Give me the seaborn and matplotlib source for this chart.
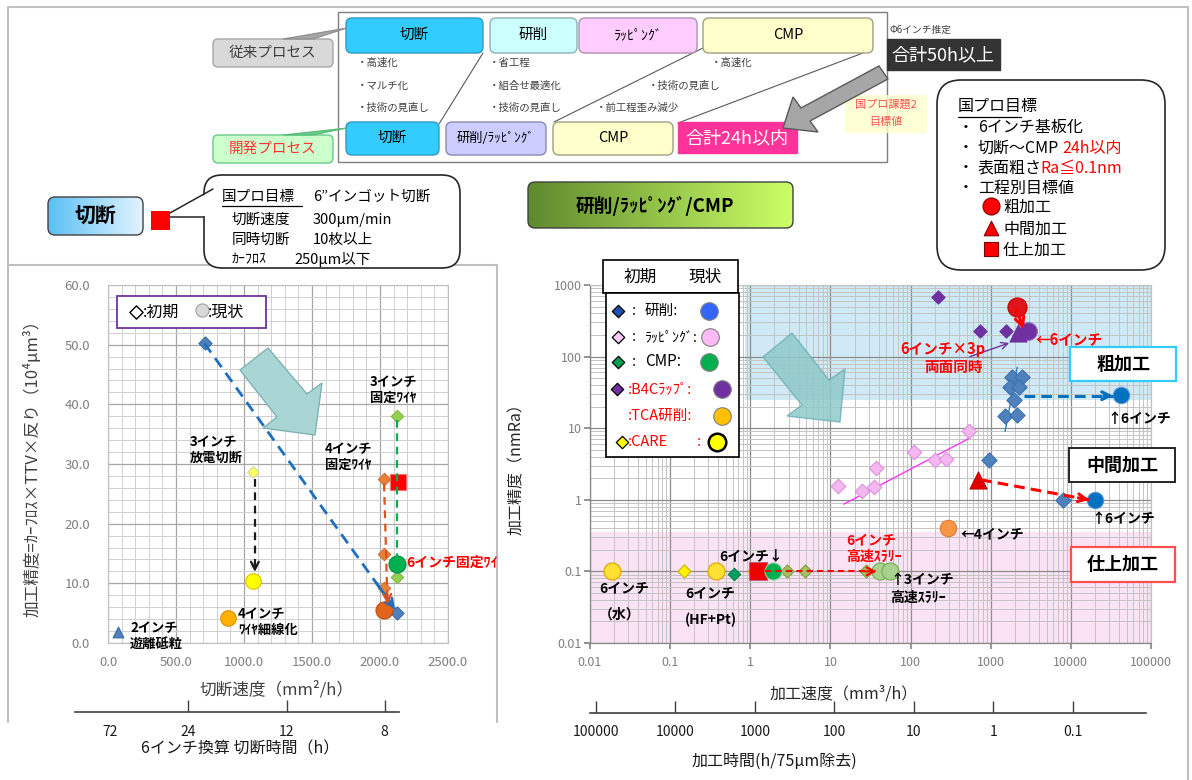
import numpy as np
import pandas as pd
import matplotlib
matplotlib.use("Agg")
import matplotlib.pyplot as plt
import seaborn as sns
from matplotlib.patches import FancyBboxPatch, Rectangle, Polygon
from matplotlib.colors import LinearSegmentedColormap
from matplotlib.transforms import Bbox, TransformedBbox
from matplotlib.ticker import FixedLocator, MultipleLocator, LogLocator, NullFormatter

# ---------------- data: left chart (切断) ----------------
cut_x_ticks = [0, 500, 1000, 1500, 2000, 2500]
cut_x_labels = ["0.0", "500.0", "1000.0", "1500.0", "2000.0", "2500.0"]
cut_y_ticks = [0, 10, 20, 30, 40, 50, 60]
cut_y_labels = ["0.0", "10.0", "20.0", "30.0", "40.0", "50.0", "60.0"]

trend_init_x = [710, 2125]
trend_init_y = [50.2, 5.0]
free2_x = [75]
free2_y = [1.8]
edm3_init_x = [1068]
edm3_init_y = [28.7]
edm3_now_x = [1068]
edm3_now_y = [10.4]
thin4_now_x = [880]
thin4_now_y = [4.2]
fix4_init_x = [2030, 2030, 2030]
fix4_init_y = [27.5, 14.9, 9.2]
fix4_now_x = [2030]
fix4_now_y = [5.5]
fix3_init_x = [2125, 2125]
fix3_init_y = [38.1, 11.1]
fix3_now_x = [2125]
fix3_now_y = [13.2]
fix6_x = [2130]
fix6_y = [26.9]

cut_time_pos = [15, 590, 1315, 2035]
cut_time_labels = ["72", "24", "12", "8"]

# ---------------- data: right chart (研削/ラッピング/CMP) ----------------
rate_ticks = [0.01, 0.1, 1, 10, 100, 1000, 10000, 100000]
rate_labels = ["0.01", "0.1", "1", "10", "100", "1000", "10000", "100000"]
ra_ticks = [0.01, 0.1, 1, 10, 100, 1000]
ra_labels = ["0.01", "0.1", "1", "10", "100", "1000"]

grind_init_x = [1830, 2440, 1740, 2250, 1950, 1490, 2140, 960, 7960]
grind_init_y = [52.6, 52.6, 38, 38, 25, 14.6, 15.4, 3.54, 1.0]
grind_now_x = [41900, 19900]
grind_now_y = [29.3, 1.0]
lap_init_x = [12.6, 24.6, 34.5, 37, 110, 200, 278, 535]
lap_init_y = [1.58, 1.34, 1.5, 2.77, 4.58, 3.54, 3.7, 9.0]
cmp_init_x = [0.63]
cmp_init_y = [0.093]
cmp_now_x = [1.9]
cmp_now_y = [0.1]
b4c_init_x = [223, 725, 1550]
b4c_init_y = [690, 230, 230]
b4c_now_x = [2940]
b4c_now_y = [230]
b4c_tri_x = [2200]
b4c_tri_y = [217]
tca_now_x = [295]
tca_now_y = [0.40]
care_init_x = [0.15, 1.1]
care_init_y = [0.1, 0.1]
care_now_x = [0.019, 0.37]
care_now_y = [0.1, 0.1]
slurry_init_x = [2.87, 4.8, 27.5]
slurry_init_y = [0.1, 0.1, 0.1]
slurry_now_x = [42, 56]
slurry_now_y = [0.1, 0.1]
goal_rough_x = [2100]
goal_rough_y = [500]
goal_mid_x = [690]
goal_mid_y = [1.9]
goal_fin_x = [1.26]
goal_fin_y = [0.1]
lap_fit_x = [14.7, 550]
lap_fit_y = [0.87, 7.3]
grind_fit_x = [1510, 2140]
grind_fit_y = [9.0, 71]
rough_zone = [0.87, 25]      # from speed, from Ra
finish_zone_top = 0.36        # Ra upper bound of finishing zone
time_ticks = [100000, 10000, 1000, 100, 10, 1, 0.1]
time_labels = ["100000", "10000", "1000", "100", "10", "1", "0.1"]

# ---------------- figure ----------------
sns.set_theme(style="white")
plt.rcParams["font.family"] = ["Noto Sans CJK JP", "DejaVu Sans"]
plt.rcParams["axes.unicode_minus"] = False

W, H = 1192, 780
fig = plt.figure(figsize=(W / 100, H / 100), dpi=100)
fig.patch.set_facecolor("white")


def rect(x0, y0, x1, y1):
    return [x0 / W, 1 - y1 / H, (x1 - x0) / W, (y1 - y0) / H]


ax1 = fig.add_axes(rect(108, 285, 448, 643))
ax2 = fig.add_axes(rect(590, 285, 1151, 643))
ov = fig.add_axes([0, 0, 1, 1], zorder=20)
ov.set_xlim(0, W)
ov.set_ylim(H, 0)
ov.axis("off")
ov.patch.set_alpha(0)


def sc(ax, x, y, marker, s, fc, ec, lw=0.8, z=4):
    sns.scatterplot(x=x, y=y, ax=ax, marker=marker, s=s, color=fc,
                    edgecolor=ec, linewidth=lw, zorder=z, legend=False)


def dash_arrow(ax, x0, y0, x1, y1, color, lw=1.8, log=False, dash=(4, 2.5), head=True):
    ax.plot([x0, x1], [y0, y1], ls=(0, dash), color=color, lw=lw, zorder=6,
            solid_capstyle="butt")
    if head:
        if log:
            xm = 10 ** (np.log10(x0) + 0.9 * (np.log10(x1) - np.log10(x0)))
            ym = 10 ** (np.log10(y0) + 0.9 * (np.log10(y1) - np.log10(y0)))
        else:
            xm = x0 + 0.9 * (x1 - x0)
            ym = y0 + 0.9 * (y1 - y0)
        ax.annotate("", xy=(x1, y1), xytext=(xm, ym),
                    arrowprops=dict(arrowstyle="->", color=color, lw=lw,
                                    mutation_scale=14, shrinkA=0, shrinkB=0),
                    zorder=7)


# ---------------- left chart ----------------
ax1.set_xlim(0, 2500)
ax1.set_ylim(0, 60)
ax1.xaxis.set_major_locator(FixedLocator(cut_x_ticks))
ax1.set_xticklabels(cut_x_labels)
ax1.yaxis.set_major_locator(FixedLocator(cut_y_ticks))
ax1.set_yticklabels(cut_y_labels)
ax1.xaxis.set_minor_locator(MultipleLocator(100))
ax1.yaxis.set_minor_locator(MultipleLocator(2))
ax1.grid(True, which="major", color="#A6A6A6", lw=0.9)
ax1.grid(True, which="minor", color="#D0D0D0", lw=0.7)
ax1.set_axisbelow(True)
ax1.tick_params(which="both", length=0, labelsize=9.5, labelcolor="#7F7F7F")
ax1.tick_params(axis="x", pad=9)
ax1.tick_params(axis="y", pad=13)
for s in ax1.spines.values():
    s.set_color("#BFBFBF")
    s.set_linewidth(0.8)
ax1.set_xlabel("切断速度（mm²/h）", fontsize=12, color="#404040")
ax1.xaxis.set_label_coords(0.497, -0.105)
ax1.set_ylabel("加工精度=ｶｰﾌﾛｽ×TTV×反り（10⁴μm³）", fontsize=12, color="#404040")
ax1.yaxis.set_label_coords(-0.194, 0.5)

# big teal arrow (left)
left_arrow = Polygon([(240, 370), (277, 417), (263, 428), (315, 435), (322, 383),
                      (307, 394), (268, 348)], closed=True, fc="#A9D5D5", ec="#7FB3B3",
                     lw=1, transform=ov.transData, zorder=1, clip_on=False)
ax1.add_patch(left_arrow)

dash_arrow(ax1, trend_init_x[0], trend_init_y[0], trend_init_x[1] - 15, trend_init_y[1] + 0.7,
           "#1F6FC0", lw=2.0, dash=(4, 2.5))
dash_arrow(ax1, edm3_init_x[0] + 12, edm3_init_y[0] - 1.2, edm3_now_x[0] + 12, edm3_now_y[0] + 1.5,
           "#1A1A1A", lw=1.6, dash=(3.5, 2.5))
dash_arrow(ax1, fix4_init_x[0], fix4_init_y[0] - 0.8, fix4_now_x[0] + 25, fix4_now_y[0] + 1.0,
           "#E0501A", lw=1.6, dash=(3.5, 2.5))
dash_arrow(ax1, fix3_init_x[0], fix3_init_y[0] - 0.8, fix3_now_x[0], fix3_now_y[0] + 0.8,
           "#00B050", lw=1.6, dash=(3.5, 2.5), head=False)

sc(ax1, trend_init_x, trend_init_y, "D", 45, "#4F81BD", "#3A6AA8")
sc(ax1, free2_x, free2_y, "^", 60, "#4F81BD", "#3A6AA8")
sc(ax1, edm3_init_x, edm3_init_y, "D", 35, "#FFFF66", "#D8D890")
sc(ax1, edm3_now_x, edm3_now_y, "o", 125, "#FFFF00", "#E0C000", z=5)
sc(ax1, thin4_now_x, thin4_now_y, "o", 125, "#FFB000", "#E09000", z=5)
sc(ax1, fix4_init_x, fix4_init_y, "D", 40, "#E8803A", "#D07030")
sc(ax1, fix4_now_x, fix4_now_y, "o", 150, "#E0651A", "#C05010", z=5)
sc(ax1, fix3_init_x, fix3_init_y, "D", 40, "#92D050", "#80B848")
sc(ax1, fix3_now_x, fix3_now_y, "o", 150, "#00B050", "#009040", z=5)
sc(ax1, fix6_x, fix6_y, "s", 130, "#FF0000", "#FF7070", z=3)

# ---------------- right chart ----------------
ax2.set_xscale("log")
ax2.set_yscale("log")
ax2.set_xlim(0.01, 100000)
ax2.set_ylim(0.01, 1000)
ax2.xaxis.set_major_locator(FixedLocator(rate_ticks))
ax2.set_xticklabels(rate_labels)
ax2.yaxis.set_major_locator(FixedLocator(ra_ticks))
ax2.set_yticklabels(ra_labels)
ax2.xaxis.set_minor_locator(LogLocator(base=10, subs=np.arange(2, 10)))
ax2.yaxis.set_minor_locator(LogLocator(base=10, subs=np.arange(2, 10)))
ax2.xaxis.set_minor_formatter(NullFormatter())
ax2.yaxis.set_minor_formatter(NullFormatter())
ax2.grid(True, which="major", color="#8C8C8C", lw=0.9)
ax2.grid(True, which="minor", color="#C4C4C4", lw=0.7)
ax2.set_axisbelow(True)
ax2.tick_params(which="major", direction="out", length=4, color="#868686",
                labelsize=9, labelcolor="#7F7F7F", left=True, bottom=True)
ax2.tick_params(axis="x", pad=5)
ax2.tick_params(axis="y", pad=2)
ax2.tick_params(which="minor", length=0)
for k, s in ax2.spines.items():
    s.set_color("#868686" if k in ("left", "bottom") else "#C4C4C4")
    s.set_linewidth(0.9)
ax2.set_xlabel("加工速度（mm³/h）", fontsize=11.5, color="#262626")
ax2.xaxis.set_label_coords(0.453, -0.12)
ax2.set_ylabel("加工精度（nmRa）", fontsize=11.5, color="#262626")
ax2.yaxis.set_label_coords(-0.116, 0.497)

ax2.add_patch(Rectangle((rough_zone[0], rough_zone[1]), 1e5 - rough_zone[0], 1000 - rough_zone[1],
                        fc="#CFEAF6", ec="none", zorder=0.2))
ax2.add_patch(Rectangle((0.01, 0.01), 1e5 - 0.01, finish_zone_top - 0.01,
                        fc="#FBE3F6", ec="none", zorder=0.2))

right_arrow = Polygon([(763, 357), (802, 405), (787, 416), (840, 422), (845, 369),
                       (829, 380), (792, 333)], closed=True, fc="#8FCACA", ec="#6FB0B8",
                      lw=1, alpha=0.85, transform=ov.transData, zorder=1, clip_on=False)
ax2.add_patch(right_arrow)

sns.lineplot(x=lap_fit_x, y=lap_fit_y, ax=ax2, color="#FF33FF", lw=1.0, sort=False, zorder=3)
sns.lineplot(x=grind_fit_x, y=grind_fit_y, ax=ax2, color="#1F7FD0", lw=1.0, sort=False, zorder=3)

sc(ax2, lap_init_x, lap_init_y, "D", 55, "#F3B8F0", "#E090E0")
sc(ax2, grind_init_x, grind_init_y, "D", 60, "#4F81BD", "#3A70B0")
sc(ax2, b4c_init_x, b4c_init_y, "D", 45, "#7030A0", "#6030A0")
sc(ax2, cmp_init_x, cmp_init_y, "D", 40, "#00A060", "#008050")
sc(ax2, care_init_x, care_init_y, "D", 45, "#FFF200", "#C8B400")
sc(ax2, slurry_init_x, slurry_init_y, "D", 45, "#A4C060", "#7F9F40")
sc(ax2, goal_fin_x, goal_fin_y, "s", 150, "#EE0000", "#C06080", z=5)
sc(ax2, cmp_now_x, cmp_now_y, "o", 150, "#00B050", "#90D0A0", z=5)
sc(ax2, care_now_x, care_now_y, "o", 150, "#FFE135", "#E0A000", z=5)
sc(ax2, slurry_now_x, slurry_now_y, "o", 150, "#A9D18E", "#70AD47", z=5)
sc(ax2, tca_now_x, tca_now_y, "o", 140, "#F79646", "#E07A30", z=5)
sc(ax2, grind_now_x, grind_now_y, "o", 140, "#0070C0", "#5B9BD5", z=5)
sc(ax2, b4c_now_x, b4c_now_y, "o", 160, "#7030A0", "#9060C0", z=5)
sc(ax2, b4c_tri_x, b4c_tri_y, "^", 150, "#7030A0", "#7030A0", z=5)
sc(ax2, goal_rough_x, goal_rough_y, "o", 190, "#E0141E", "#C00000", z=5)
sc(ax2, goal_mid_x, goal_mid_y, "^", 150, "#E00000", "#C00000", z=5)

ax2.annotate("", xy=(2570, 240), xytext=(goal_rough_x[0], goal_rough_y[0] * 0.92),
             arrowprops=dict(arrowstyle="->", color="#FF0000", lw=2.2, mutation_scale=16,
                             shrinkA=0, shrinkB=0), zorder=7)
ax2.annotate("", xy=(1700, 155), xytext=(550, 100),
             arrowprops=dict(arrowstyle="->", color="#7030A0", lw=1.0, mutation_scale=12,
                             shrinkA=0, shrinkB=0), zorder=7)
dash_arrow(ax2, 2600, grind_now_y[0] * 0.97, grind_now_x[0] * 0.8, grind_now_y[0] * 0.97,
           "#0070C0", lw=2.2, log=True, dash=(3.5, 2))
dash_arrow(ax2, goal_mid_x[0] * 1.1, goal_mid_y[0], grind_now_x[1] * 0.85, grind_now_y[1],
           "#FF0000", lw=2.2, log=True, dash=(3.5, 2))
dash_arrow(ax2, goal_fin_x[0] * 1.2, goal_fin_y[0], slurry_now_x[0] * 0.9, slurry_now_y[0],
           "#FF0000", lw=1.5, log=True, dash=(3, 2))

# ---------------- secondary (time) axes ----------------
axt1 = fig.add_axes(rect(75, 710.5, 399, 712))
axt1.set_xlim(-243, 2140)
axt1.set_ylim(0, 1)
axt1.set_yticks([])
axt1.patch.set_alpha(0)
for k in ("left", "right", "top"):
    axt1.spines[k].set_visible(False)
axt1.spines["bottom"].set_color("#404040")
axt1.spines["bottom"].set_linewidth(1.2)
axt1.set_xticks(cut_time_pos)
axt1.set_xticklabels(cut_time_labels)
axt1.tick_params(axis="x", direction="in", length=9, width=1, color="#404040",
                 labelsize=10, labelcolor="#1A1A1A", pad=9, bottom=True)
axt1.xaxis.get_major_ticks()[0].tick1line.set_visible(False)
axt1.set_xlabel("6インチ換算 切断時間（h）", fontsize=11.5, color="#1A1A1A")
axt1.xaxis.set_label_coords(240, 740, transform=ov.transData)

axt2 = fig.add_axes(rect(590, 711.5, 1146, 713))
axt2.set_xscale("log")
axt2.set_xlim(1.19e5, 0.012)
axt2.set_ylim(0, 1)
axt2.set_yticks([])
axt2.patch.set_alpha(0)
for k in ("left", "right", "top"):
    axt2.spines[k].set_visible(False)
axt2.spines["bottom"].set_color("#404040")
axt2.spines["bottom"].set_linewidth(1.2)
axt2.xaxis.set_major_locator(FixedLocator(time_ticks))
axt2.set_xticklabels(time_labels)
axt2.xaxis.set_minor_locator(FixedLocator([]))
axt2.tick_params(axis="x", direction="in", length=9, width=1, color="#404040",
                 labelsize=10, labelcolor="#1A1A1A", pad=9, bottom=True)
axt2.set_xlabel("加工時間(h/75μm除去)", fontsize=11.5, color="#1A1A1A")
axt2.xaxis.set_label_coords(774, 753, transform=ov.transData)

# ---------------- overlay drawing helpers ----------------
def rbox(x0, y0, x1, y1, fc, ec, lw=1.0, r=5, z=2, alpha=1.0):
    p = FancyBboxPatch((x0, y0), x1 - x0, y1 - y0,
                       boxstyle=f"round,pad=0,rounding_size={r}",
                       fc=fc, ec=ec, lw=lw, zorder=z, alpha=alpha)
    ov.add_patch(p)
    return p


def box(x0, y0, x1, y1, fc, ec, lw=1.0, z=2, alpha=1.0):
    p = Rectangle((x0, y0), x1 - x0, y1 - y0, fc=fc, ec=ec, lw=lw, zorder=z, alpha=alpha)
    ov.add_patch(p)
    return p


def T(x, y, s, size=10, color="black", ha="left", va="center", weight="normal", z=6, **kw):
    return ov.text(x, y, s, fontsize=size, color=color, ha=ha, va=va,
                   fontweight=weight, zorder=z, **kw)


def grad_box(x0, y0, x1, y1, c0, c1, r=6, ec="#404040"):
    p = FancyBboxPatch((x0, y0), x1 - x0, y1 - y0,
                       boxstyle=f"round,pad=0,rounding_size={r}",
                       fc="none", ec=ec, lw=1.0, zorder=3)
    ov.add_patch(p)
    cmap = LinearSegmentedColormap.from_list("g", [c0, c1])
    im = ov.imshow(np.linspace(0, 1, 256)[None, :], extent=(x0, x1, y1, y0),
                   cmap=cmap, aspect="auto", zorder=2)
    im.set_clip_path(p)


# frames
for xs, ys in [([8, 1188], [7, 7]), ([8, 8], [7, 722]), ([1188, 1188], [7, 780]),
               ([8, 497], [265, 265]), ([497, 497], [265, 722])]:
    ov.plot(xs, ys, color="#BFBFBF", lw=1.5, zorder=1)

# ---------------- top process diagram ----------------
box(338, 12, 887, 162, "white", "#7F7F7F", lw=1.0, z=1)
rbox(346, 18, 483, 53, "#33CCFF", "#2E9AC8", r=6)
rbox(490, 18, 577, 53, "#CCFFFF", "#8FB0B0", r=6)
rbox(579, 18, 697, 53, "#FFCCFF", "#B090B0", r=6)
rbox(703, 18, 873, 53, "#FFFFCC", "#A0A080", r=6)
T(414, 35, "切断", 10.5, ha="center")
T(533, 35, "研削", 10.5, ha="center")
T(638, 35, "ﾗｯﾋﾟﾝｸﾞ", 10, ha="center")
T(788, 35, "CMP", 10.5, ha="center")
for x, y, s in [(357, 63, "・高速化"), (357, 86, "・マルチ化"), (357, 108, "・技術の見直し"),
                (489, 63, "・省工程"), (489, 86, "・組合せ最適化"), (489, 108, "・技術の見直し"),
                (648, 86, "・技術の見直し"), (596, 108, "・前工程歪み減少"), (711, 63, "・高速化")]:
    T(x, y, s, 7.5, "#404040")
for xs, ys in [([483, 439], [53, 124]), ([703, 554], [48, 122]), ([863, 678], [53, 123])]:
    ov.plot(xs, ys, color="#595959", lw=0.8, zorder=1.5)
rbox(346, 122, 439, 155, "#33CCFF", "#2E9AC8", r=6)
rbox(446, 122, 546, 155, "#CCCCFF", "#8A8AB0", r=6)
rbox(553, 122, 673, 155, "#FFFFCC", "#A0A080", r=6)
box(678, 122, 797, 153, "#FF3399", "#FF3399")
T(392, 138, "切断", 10.5, ha="center")
T(496, 138, "研削/ﾗｯﾋﾟﾝｸﾞ", 9.5, ha="center")
T(613, 138, "CMP", 10.5, ha="center")
T(737, 138, "合計24h以内", 13, "white", ha="center")

rbox(213, 39, 333, 67, "#D9D9D9", "#A6A6A6", r=5)
T(273, 53, "従来プロセス", 10.5, "#404040", ha="center")
ov.add_patch(Polygon([(283, 39), (347, 28), (313, 39)], closed=True, fc="#A6A6A6", ec="#8C8C8C", lw=0.8, zorder=2))
rbox(213, 135, 333, 163, "#CCFFCC", "#66CC88", r=5)
T(273, 149, "開発プロセス", 10.5, "#FF3333", ha="center")
ov.add_patch(Polygon([(283, 135), (347, 128), (313, 135)], closed=True, fc="#66CC88", ec="#55BB77", lw=0.8, zorder=2))

ov.add_patch(Polygon([(879, 66), (801, 108), (793, 97), (783, 128), (818, 132), (810, 121), (888, 79)],
                     closed=True, fc="#A6A6A6", ec="#595959", lw=1.0, zorder=3))
T(890, 30, "Φ6インチ推定", 7, "#404040")
box(887, 39, 1000, 70, "#333333", "#333333")
T(943, 55, "合計50h以上", 13, "white", ha="center")
box(845, 95, 927, 133, "#FFFFCC", "none", alpha=0.8, z=2.5)
T(886, 105, "国プロ課題2", 8, "#FF5050", ha="center")
T(886, 122, "目標値", 8, "#FF5050", ha="center")

# right callout
rbox(937, 80, 1165, 270, "white", "#262626", lw=1.2, r=24)
T(958, 107, "国プロ目標", 11.5)
ov.plot([958, 1021], [117, 117], color="black", lw=0.9, zorder=6)
T(958, 127, "・", 11.5)
T(978, 127, "6インチ基板化", 11.5)
T(958, 148, "・", 11.5)
T(978, 148, "切断～CMP", 11.5)
T(1062, 148, "24h以内", 11.5, "#FF0000")
T(958, 168, "・", 11.5)
T(978, 168, "表面粗さ", 11.5)
T(1040, 168, "Ra≦0.1nm", 11.5, "#FF0000")
T(958, 188, "・", 11.5)
T(978, 188, "工程別目標値", 11.5)
ov.scatter([991], [206], marker="o", s=150, c="#FF0000", edgecolors="#800000", linewidths=0.8, zorder=6)
ov.scatter([991], [228], marker="^", s=110, c="#FF0000", edgecolors="#800000", linewidths=0.8, zorder=6)
ov.scatter([991], [249], marker="s", s=110, c="#FF0000", edgecolors="#800000", linewidths=0.8, zorder=6)
T(1003, 207, "粗加工", 11.5)
T(1003, 229, "中間加工", 11.5)
T(1003, 250, "仕上加工", 11.5)

# left section header + callout
grad_box(48, 197, 143, 235, "#5BC0F5", "#E2F3FF", r=7)
T(95, 216, "切断", 15, weight="bold", ha="center")
box(151, 211, 170, 230, "#FF0000", "none", z=4)
rbox(204, 175, 460, 268, "white", "#262626", lw=1.2, r=18)
ov.add_patch(Polygon([(214, 190), (170, 213), (170, 217), (205, 216)], closed=True,
                     fc="white", ec="none", zorder=2.5))
ov.plot([213, 170], [189, 213], color="#262626", lw=1.1, zorder=3)
ov.plot([170, 203], [217, 217], color="#262626", lw=1.1, zorder=3)
T(222, 197, "国プロ目標", 10.5)
ov.plot([222, 302], [206, 206], color="black", lw=0.9, zorder=6)
T(313, 197, "6”インゴット切断", 10.5)
T(232, 220, "切断速度", 10.5)
T(313, 220, "300μm/min", 10.5)
T(232, 240, "同時切断", 10.5)
T(313, 240, "10枚以上", 10.5)
T(232, 259, "ｶｰﾌﾛｽ", 10)
T(294, 259, "250μm以下", 10.5)

# right section header
grad_box(528, 182, 793, 228, "#5E8A2E", "#CCFF66", r=7)
T(655, 206, "研削/ﾗｯﾋﾟﾝｸﾞ/CMP", 13.5, weight="bold", ha="center")

# ---------------- left chart annotations ----------------
box(117, 296, 266, 328, "white", "#7030A0", lw=1.3, z=5)
ov.scatter([136], [312], marker="D", s=45, facecolors="white", edgecolors="black", linewidths=1.0, zorder=6)
T(143, 312, ":初期", 11.5)
ov.scatter([202], [310], marker="o", s=90, c="#D9D9D9", edgecolors="#A0A0A0", linewidths=0.8, zorder=6)
T(208, 312, ":現状", 11.5)
T(370, 390, "3インチ\n固定ﾜｲﾔ", 9.5, weight="bold", linespacing=1.15)
T(190, 450, "3インチ\n放電切断", 9.5, weight="bold", linespacing=1.15)
T(325, 457, "4インチ\n固定ﾜｲﾔ", 9.5, weight="bold", linespacing=1.15)
T(238, 622, "4インチ\nﾜｲﾔ細線化", 9.5, weight="bold", linespacing=1.15)
T(130, 636, "2インチ\n遊離砥粒", 9.5, weight="bold", linespacing=1.15)
t6 = T(406, 563, "6インチ固定ﾜｲﾔ", 10, "#FF0000", weight="bold")
t6.set_clip_box(TransformedBbox(Bbox([[0, 0], [497, H]]), ov.transData))
t6.set_clip_on(True)

# ---------------- right chart annotations ----------------
box(603, 260, 738, 293, "white", "black", lw=1.2, z=5)
T(640, 277, "初期", 12, ha="center")
T(705, 277, "現状", 12, ha="center")
box(606, 293, 739, 457, "white", "black", lw=1.2, z=5)
leg_rows = [311, 337, 362, 389, 416, 442]
for (dx, dc), y in zip([(618, "#2050B0"), (618, "#FFCCFF"), (618, "#00A050"), (617, "#7030A0"),
                        (None, None), (622, "#FFFF00")], leg_rows):
    if dx is not None:
        ov.scatter([dx], [y], marker="D", s=40, c=dc, edgecolors="black", linewidths=0.9, zorder=6)
for (cx, cc, ce, lw), y in zip([(709, "#3366FF", "#7F7F7F", 0.8), (710, "#FFBBF7", "#7F7F7F", 0.8),
                                (709, "#00B050", "#7F7F7F", 0.8), (722, "#7030A0", "#7F7F7F", 0.8),
                                (722, "#FFC000", "#7F7F7F", 0.8), (717, "#FFFF00", "black", 1.8)], leg_rows):
    ov.scatter([cx], [y], marker="o", s=160, c=cc, edgecolors=ce, linewidths=lw, zorder=6)
T(632, 311, ":", 10.5)
T(645, 311, "研削:", 10.5)
T(632, 337, ":", 10.5)
T(645, 337, "ﾗｯﾋﾟﾝｸﾞ:", 10)
T(632, 362, ":", 10.5)
T(645, 362, "CMP:", 11)
T(628, 389, ":B4Cﾗｯﾌﾟ:", 10.5, "#FF0000")
T(628, 416, ":TCA研削:", 10.5, "#FF0000")
T(628, 442, ":CARE", 10.5, "#FF0000")
T(697, 442, ":", 10.5, "#FF0000")

T(1035, 339, "←6インチ", 10.5, "#FF0000", weight="bold")
T(943, 349, "6インチ×3p", 10.5, "#FF0000", weight="bold", ha="center")
T(954, 367, "両面同時", 10.5, "#FF0000", weight="bold", ha="center")
T(1107, 419, "↑6インチ", 10, weight="bold")
T(1091, 519, "↑6インチ", 10, weight="bold")
T(961, 534, "←4インチ", 10, weight="bold")
T(719, 556, "6インチ↓", 10, weight="bold")
T(846, 540, "6インチ", 10, "#FF0000", weight="bold")
T(846, 557, "高速ｽﾗﾘｰ", 10, "#FF0000", weight="bold")
T(890, 580, "↑3インチ", 10, weight="bold")
T(890, 598, "高速ｽﾗﾘｰ", 10, weight="bold")
T(599, 588, "6インチ", 10, weight="bold")
T(599, 615, "（水）", 10, weight="bold")
T(685, 593, "6インチ", 10, weight="bold")
T(685, 620, "(HF+Pt)", 10, weight="bold")

box(1070, 347, 1176, 381, "white", "#33CCFF", lw=1.6, z=5)
T(1123, 364, "粗加工", 13, weight="bold", ha="center")
box(1069, 448, 1175, 482, "white", "#262626", lw=1.4, z=5)
T(1122, 465, "中間加工", 13, weight="bold", ha="center")
box(1071, 547, 1175, 582, "white", "#FF5050", lw=1.6, z=5)
T(1123, 564, "仕上加工", 13, weight="bold", ha="center")

ov.set_xlim(0, W)
ov.set_ylim(H, 0)

fig.savefig("out.png", dpi=100, facecolor="white")
